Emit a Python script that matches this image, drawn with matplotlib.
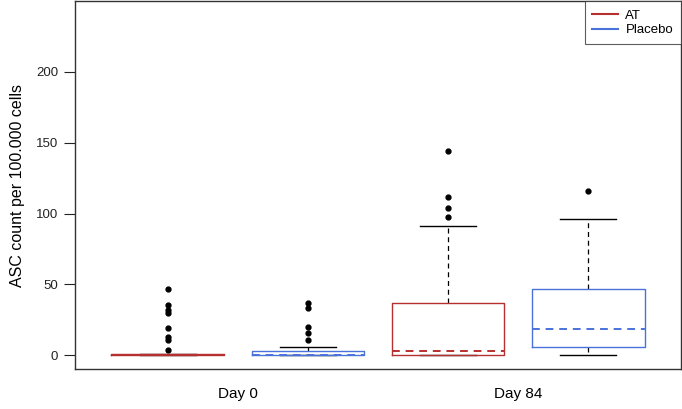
import matplotlib
matplotlib.use("Agg")
import matplotlib.pyplot as plt
from matplotlib.lines import Line2D

RED = "#B5302F"
BLUE = "#4A72D8"

groups = ["Day 0", "Day 84"]
series = ["AT", "Placebo"]

# five-number summaries: low whisker, q1, median, q3, high whisker
whislo = [0.0, 0.0, 0.0, 0.0]
q1 = [0.0, 0.0, 0.0, 5.6]
med = [0.0, 0.0, 2.8, 18.8]
q3 = [0.8, 2.8, 36.9, 46.8]
whishi = [0.8, 5.6, 91.0, 96.0]
fliers = [
    [46.8, 35.8, 31.8, 30.1, 19.6, 12.9, 11.1, 3.5],
    [37.2, 33.1, 20.0, 15.7, 11.1],
    [144.2, 112.0, 104.0, 97.9],
    [116.0],
]
colors = [RED, BLUE, RED, BLUE]

plt.rcParams["font.family"] = "Liberation Sans"

fig = plt.figure(figsize=(6.82, 4.09), dpi=100)
ax = fig.add_axes([75 / 682, 40 / 409, 606 / 682, 367.6 / 409])

positions = [1, 2, 3, 4]
for i, pos in enumerate(positions):
    stats = [dict(whislo=whislo[i], q1=q1[i], med=med[i], q3=q3[i],
                  whishi=whishi[i], fliers=fliers[i])]
    ax.bxp(
        stats, positions=[pos], widths=0.8, showfliers=True,
        boxprops=dict(color=colors[i], linewidth=1.0, zorder=3),
        medianprops=dict(color=colors[i], linewidth=1.4, linestyle=(0, (4, 3)), zorder=4),
        whiskerprops=dict(color="black", linewidth=0.9, linestyle=(0, (4, 3)), zorder=2),
        capprops=dict(color="black", linewidth=1.0, zorder=2),
        capwidths=0.4,
        flierprops=dict(marker="o", markerfacecolor="black", markeredgecolor="black",
                        markersize=3.5, linestyle="none"),
    )

ax.set_xlim(0.34, 4.66)
ax.set_ylim(-9.6, 249.6)
ax.set_yticks([0, 50, 100, 150, 200])
ax.tick_params(axis="y", length=8, width=0.8, labelsize=9.5, colors="#222222", pad=4)
ax.set_xticks([1.5, 3.5])
ax.set_xticklabels(groups)
ax.tick_params(axis="x", length=0, labelsize=11, pad=13)
ax.set_ylabel("ASC count per 100.000 cells", fontsize=11.5, labelpad=8)
for s in ax.spines.values():
    s.set_color("#333333")
    s.set_linewidth(1.0)

handles = [Line2D([0], [0], color=RED, lw=1.5), Line2D([0], [0], color=BLUE, lw=1.5)]
leg = ax.legend(handles, series, loc="upper right", fontsize=9.5, frameon=True,
                fancybox=False, borderaxespad=0, handlelength=1.9,
                borderpad=0.6, labelspacing=0.2, handletextpad=0.6)
leg.get_frame().set_edgecolor("#333333")
leg.get_frame().set_linewidth(0.8)

fig.savefig("out.png", dpi=100)
